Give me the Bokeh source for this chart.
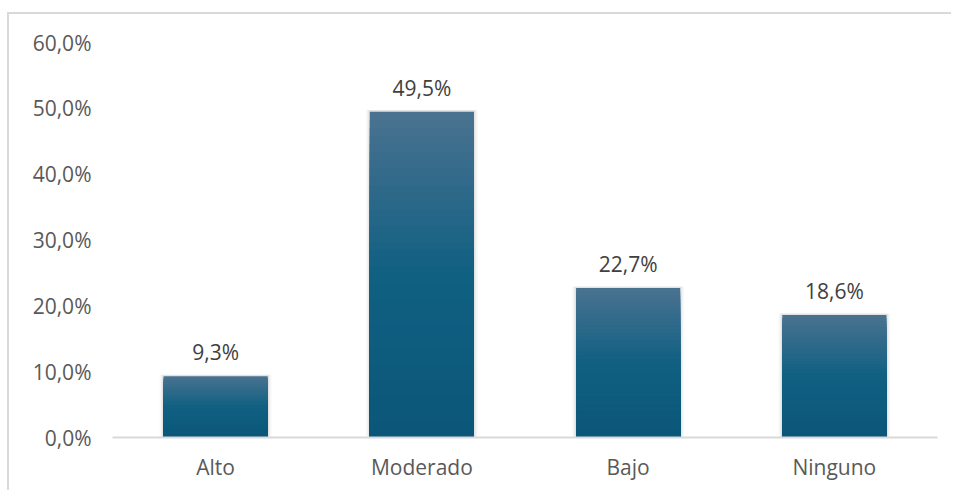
from bokeh.plotting import figure
from bokeh.models import ColumnDataSource, FactorRange, FixedTicker, CustomJSTickFormatter
from bokeh.core.properties import value
from bokeh.embed import file_html
from bokeh.resources import INLINE

categories = ["Alto", "Moderado", "Bajo", "Ninguno"]
values = [9.3, 49.5, 22.7, 18.6]
labels = ["9,3%", "49,5%", "22,7%", "18,6%"]
y_ticks = [0, 10, 20, 30, 40, 50, 60]

FONT = "Open Sans"
TXT = "#595959"

p = figure(x_range=FactorRange(*categories), y_range=(0, 60), width=944, height=478,
           output_backend="svg", toolbar_location=None, tools="",
           min_border_left=103, min_border_right=16, min_border_top=28, min_border_bottom=55)
p.styles = {"margin-left": "7px", "margin-top": "12px",
            "border-left": "2px solid #d9d9d9", "border-top": "2px solid #d9d9d9"}
p.background_fill_color = "white"
p.border_fill_color = "white"
p.outline_line_color = None
p.grid.visible = False

# soft shadow layers
for w, a in [(0.545, 0.025), (0.53, 0.04), (0.518, 0.05)]:
    p.vbar(x=categories, top=[v + 0.25 for v in values], bottom=-0.6, width=w,
           fill_color="#000000", fill_alpha=a, line_color=None)

# gradient bars built from overlapping layers (each from its level down to 0)
top_c = (74, 114, 144)
mid_c = (16, 96, 130)
bot_c = (11, 86, 121)

def col(t):
    if t < 0.5:
        s = t / 0.5
        c = [top_c[i] + (mid_c[i] - top_c[i]) * s for i in range(3)]
    else:
        s = (t - 0.5) / 0.5
        c = [mid_c[i] + (bot_c[i] - mid_c[i]) * s for i in range(3)]
    return "#%02x%02x%02x" % tuple(int(round(x)) for x in c)

N = 40
xs, tops, colors = [], [], []
for k in range(N):
    t = k / N
    for cat, v in zip(categories, values):
        xs.append(cat)
        tops.append(v * (1 - t))
        colors.append(col(t + 0.5 / N))
seg = ColumnDataSource(dict(x=xs, top=tops, color=colors))
p.vbar(x="x", top="top", bottom=0, width=0.505, fill_color="color",
       line_color=None, source=seg)

lab = ColumnDataSource(dict(x=categories, y=values, t=labels))
p.text(x="x", y="y", text="t", source=lab, text_align="center", text_baseline="middle",
       y_offset=-24, text_font=value(FONT), text_font_size="21px", text_color="#404040")

p.yaxis.ticker = FixedTicker(ticks=y_ticks)
p.yaxis.formatter = CustomJSTickFormatter(code="return tick.toFixed(1).replace('.', ',') + '%';")
p.yaxis.axis_line_color = None
p.yaxis.major_tick_line_color = None
p.yaxis.minor_tick_line_color = None
p.yaxis.major_label_standoff = 15

p.xaxis.axis_line_color = "#d9d9d9"
p.xaxis.axis_line_width = 2
p.xaxis.major_tick_line_color = None
p.xaxis.minor_tick_line_color = None
p.xaxis.major_label_standoff = 9

for ax in (p.xaxis, p.yaxis):
    ax.major_label_text_font = FONT
    ax.major_label_text_font_size = "21px"
    ax.major_label_text_color = TXT

open("out.html", "w").write(file_html(p, INLINE))
